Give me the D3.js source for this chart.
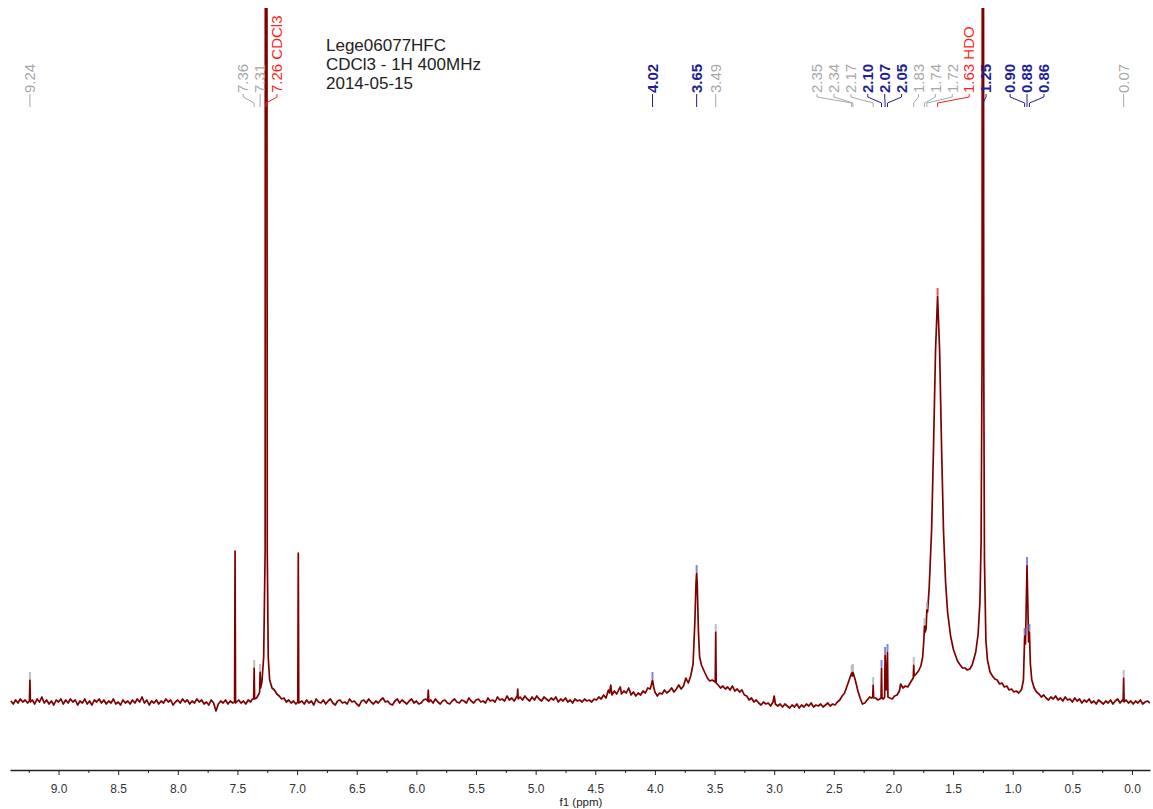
<!DOCTYPE html>
<html>
<head>
<meta charset="utf-8">
<script src="https://cdn.jsdelivr.net/npm/d3@7"></script>
<style>
  body { margin: 0; background: #fff; }
  svg { display: block; font-family: "Liberation Sans", Arial, sans-serif; }
  .axis path, .axis line { stroke: #222; }
  .axis text { fill: #333; font-size: 12px; }
</style>
</head>
<body>
<div id="chart"></div>
<script>
const width = 1153;
const height = 809;

// ppm shown at the left and right ends of the axis
const ppmRange = [9.407, -0.151];
const majorTicks = [9.0, 8.5, 8.0, 7.5, 7.0, 6.5, 6.0, 5.5, 5.0, 4.5, 4.0, 3.5, 3.0, 2.5, 2.0, 1.5, 1.0, 0.5, 0.0];
const minorTicks = [9.25, 8.75, 8.25, 7.75, 7.25, 6.75, 6.25, 5.75, 5.25, 4.75, 4.25, 3.75, 3.25, 2.75, 2.25, 1.75, 1.25, 0.75, 0.25];
const axisTitle = "f1 (ppm)";

const titleLines = ["Lege06077HFC", "CDCl3 - 1H 400MHz", "2014-05-15"];

// [ppm, intensity] (baseline = 0)
const spectrum = [
  // 9.4 - 7.5
  [9.40,1],[9.38,-2],[9.36,2],[9.34,-1],[9.32,3],[9.30,0],[9.28,2],[9.26,-1],[9.244,1],[9.24,22],
  [9.236,0],[9.22,2],[9.20,-2],[9.18,3],[9.16,0],[9.14,5],[9.12,-1],[9.10,2],[9.08,-2],[9.06,1],
  [9.04,-3],[9.02,2],[9.00,0],[8.98,3],[8.96,-2],[8.94,2],[8.92,-1],[8.90,3],[8.88,0],[8.86,2],
  [8.84,-3],[8.82,1],[8.80,-1],[8.78,3],[8.76,-2],[8.74,1],[8.72,-3],[8.70,2],[8.68,0],[8.66,3],
  [8.64,-1],[8.62,2],[8.60,-2],[8.58,1],[8.56,-1],[8.54,3],[8.52,-2],[8.50,0],[8.48,-3],[8.46,2],
  [8.44,-1],[8.42,1],[8.40,-2],[8.38,2],[8.36,-1],[8.34,3],[8.32,0],[8.30,5],[8.28,-1],[8.26,2],
  [8.24,-3],[8.22,1],[8.20,-1],[8.18,2],[8.16,-2],[8.14,1],[8.12,-1],[8.10,3],[8.08,0],[8.06,2],
  [8.04,-3],[8.02,0],[8.00,2],[7.98,-1],[7.96,3],[7.94,0],[7.92,2],[7.90,-2],[7.88,1],[7.86,-1],
  [7.84,3],[7.82,0],[7.80,2],[7.78,-2],[7.76,0],[7.74,-3],[7.72,2],[7.70,-1],[7.68,-9],[7.66,-2],
  [7.64,1],[7.62,-1],[7.60,2],[7.58,-2],[7.56,1],[7.54,-1],[7.524,0],[7.52,151],[7.516,-1],[7.49,2],
  [7.47,-1],[7.45,1],[7.43,-2],[7.41,2],[7.39,0],[7.375,3],[7.364,3],[7.36,34],[7.356,3],[7.34,4],
  // CDCl3
  [7.32,8],[7.314,10],[7.31,30],[7.306,14],[7.295,20],[7.28,45],[7.268,150],[7.264,1500],[7.257,1500],[7.25,150],
  [7.242,45],[7.23,22],[7.21,14],[7.19,12],[7.17,8],[7.15,6],[7.13,3],[7.11,4],[7.09,0],[7.07,2],
  [7.05,-1],[7.03,1],[7.01,-2],[6.994,0],[6.99,149],[6.986,-1],
  // 7.0 - 4.5
  [6.96,1],[6.94,-2],[6.92,2],[6.90,-1],[6.88,1],[6.86,-3],[6.84,3],[6.82,0],[6.80,-1],[6.78,2],
  [6.76,-2],[6.74,1],[6.72,3],[6.70,-1],[6.68,-3],[6.66,1],[6.64,2],[6.62,-1],[6.60,0],[6.58,-2],
  [6.56,3],[6.54,0],[6.52,1],[6.50,-2],[6.48,-4],[6.46,1],[6.44,2],[6.42,-1],[6.40,3],[6.38,0],
  [6.36,-2],[6.34,1],[6.32,-1],[6.30,2],[6.28,4],[6.26,0],[6.24,1],[6.22,-2],[6.20,-3],[6.18,1],
  [6.16,3],[6.14,-1],[6.12,2],[6.10,0],[6.08,-2],[6.06,1],[6.04,3],[6.02,-1],[6.00,1],[5.98,-2],
  [5.96,-1],[5.94,2],[5.92,3],[5.905,1],[5.90,12],[5.895,0],[5.88,2],[5.86,-1],[5.84,3],[5.82,0],
  [5.80,-2],[5.78,1],[5.76,2],[5.74,-1],[5.72,-2],[5.70,1],[5.68,3],[5.66,0],[5.64,-1],[5.62,2],
  [5.60,1],[5.58,-1],[5.56,4],[5.54,1],[5.52,-1],[5.50,2],[5.48,3],[5.46,0],[5.44,1],[5.42,-1],
  [5.40,4],[5.38,1],[5.36,2],[5.34,0],[5.32,5],[5.30,2],[5.28,3],[5.26,1],[5.24,6],[5.22,2],
  [5.20,4],[5.18,1],[5.16,5],[5.154,6],[5.15,13],[5.146,3],[5.13,5],[5.11,2],[5.09,6],[5.07,3],
  [5.05,1],[5.03,5],[5.01,2],[4.99,6],[4.97,3],[4.95,1],[4.93,5],[4.91,3],[4.89,1],[4.87,4],
  [4.85,2],[4.83,5],[4.81,0],[4.79,3],[4.77,1],[4.75,4],[4.73,0],[4.71,2],[4.69,-1],[4.67,3],
  [4.65,1],[4.63,2],[4.61,0],[4.59,3],[4.57,1],[4.55,2],[4.53,0],[4.51,3],
  // 4.5 - 3.1
  [4.49,2],[4.47,5],[4.45,3],[4.43,7],[4.41,4],[4.39,12],[4.38,9],[4.37,17],[4.36,7],[4.34,11],
  [4.32,8],[4.30,13],[4.29,15],[4.28,8],[4.26,11],[4.24,9],[4.22,14],[4.21,11],[4.20,7],[4.18,10],
  [4.16,6],[4.14,9],[4.12,7],[4.10,11],[4.08,9],[4.06,14],[4.04,13],[4.03,17],[4.02,22],[4.01,15],
  [4.00,10],[3.98,6],[3.96,9],[3.94,8],[3.92,12],[3.90,9],[3.88,11],[3.86,14],[3.84,10],[3.82,13],
  [3.80,17],[3.78,13],[3.76,16],[3.74,24],[3.72,19],[3.70,26],[3.68,38],[3.665,80],[3.655,120],[3.65,129],
  [3.645,118],[3.635,70],[3.625,45],[3.61,37],[3.595,33],[3.58,29],[3.56,24],[3.54,21],[3.52,22],[3.494,20],
  [3.49,70],[3.486,19],[3.47,17],[3.45,14],[3.43,16],[3.41,13],[3.39,15],[3.37,12],[3.35,16],[3.33,11],
  [3.31,13],[3.29,10],[3.27,12],[3.25,7],[3.23,6],[3.21,2],[3.19,4],[3.17,0],[3.15,2],[3.13,-1],
  // 3.1 - 2.45
  [3.11,-3],[3.09,0],[3.07,-2],[3.05,-1],[3.03,-4],[3.01,0],[3.00,6],[2.99,-2],[2.97,-4],[2.95,-2],
  [2.93,-5],[2.91,-2],[2.89,-4],[2.87,-6],[2.85,-3],[2.83,-5],[2.81,-2],[2.79,-6],[2.77,-3],[2.75,-5],
  [2.73,-2],[2.71,-4],[2.69,-1],[2.67,-5],[2.65,-3],[2.63,-4],[2.61,-2],[2.59,-5],[2.57,-3],[2.55,-1],
  [2.53,-4],[2.51,-2],[2.49,-3],[2.47,0],[2.45,2],[2.43,6],
  // 2.45 - 1.7
  [2.41,9],[2.38,19],[2.36,26],[2.35,29],[2.345,26],[2.34,30],[2.32,22],[2.30,12],[2.28,4],[2.26,-2],
  [2.24,-1],[2.22,2],[2.20,5],[2.185,4],[2.174,5],[2.17,17],[2.166,4],[2.15,4],[2.13,2],[2.115,3],
  [2.104,4],[2.10,34],[2.096,4],[2.085,3],[2.074,5],[2.07,47],[2.06,12],[2.05,50],[2.046,5],[2.03,4],
  [2.01,3],[1.99,6],[1.97,7],[1.95,11],[1.94,18],[1.92,14],[1.90,16],[1.88,15],[1.86,19],[1.845,22],
  [1.834,24],[1.83,37],[1.826,26],[1.81,28],[1.79,31],[1.77,36],[1.755,45],[1.745,62],[1.74,76],[1.733,70],
  [1.726,74],[1.72,92],[1.714,90],[1.70,115],
  // HDO and 1.25
  [1.68,172],[1.664,255],[1.647,352],[1.63,406],[1.613,352],[1.596,252],[1.58,170],[1.563,120],[1.546,90],[1.521,66],
  [1.496,52],[1.463,41],[1.44,37],[1.421,34],[1.40,34],[1.38,32],[1.36,33],[1.34,37],[1.31,50],[1.29,68],
  [1.275,100],[1.265,160],[1.257,350],[1.25,1800],[1.243,350],[1.237,142],[1.225,62],[1.212,42],[1.19,30],[1.17,26],
  [1.15,23],[1.13,22],[1.11,18],[1.09,19],[1.07,15],[1.05,16],[1.03,12],[1.01,13],[0.99,10],[0.97,11],
  [0.95,9],[0.935,11],[0.925,13],[0.91,22],[0.90,66],[0.893,58],[0.88,137],[0.867,60],[0.86,70],[0.852,38],
  [0.84,22],[0.82,14],[0.80,10],[0.78,8],[0.76,5],[0.74,7],[0.72,4],
  // 0.7 - -0.15
  [0.70,2],[0.68,5],[0.66,3],[0.64,6],[0.62,2],[0.60,4],[0.58,1],[0.56,5],[0.54,2],[0.52,3],
  [0.50,0],[0.48,4],[0.46,1],[0.44,3],[0.42,-1],[0.40,2],[0.38,0],[0.36,3],[0.34,-1],[0.32,1],
  [0.30,-2],[0.28,2],[0.26,0],[0.24,-2],[0.22,1],[0.20,-1],[0.18,2],[0.16,-2],[0.14,1],[0.12,3],
  [0.10,-1],[0.08,2],[0.074,1],[0.07,24],[0.066,0],[0.05,2],[0.03,-1],[0.01,1],[-0.01,-2],[-0.03,1],
  [-0.05,-1],[-0.07,2],[-0.09,-2],[-0.11,0],[-0.13,1],[-0.151,-1]
];

// picked peaks: kind = auto (grey), picked (blue), solvent (red)
const peakLabels = [
  {ppm: 9.24, text: "9.24", kind: "auto"},
  {ppm: 7.36, text: "7.36", kind: "auto"},
  {ppm: 7.31, text: "7.31", kind: "auto"},
  {ppm: 7.26, text: "7.26 CDCl3", kind: "solvent"},
  {ppm: 4.02, text: "4.02", kind: "picked"},
  {ppm: 3.65, text: "3.65", kind: "picked"},
  {ppm: 3.49, text: "3.49", kind: "auto"},
  {ppm: 2.35, text: "2.35", kind: "auto"},
  {ppm: 2.34, text: "2.34", kind: "auto"},
  {ppm: 2.17, text: "2.17", kind: "auto"},
  {ppm: 2.10, text: "2.10", kind: "picked"},
  {ppm: 2.07, text: "2.07", kind: "picked"},
  {ppm: 2.05, text: "2.05", kind: "picked"},
  {ppm: 1.83, text: "1.83", kind: "auto"},
  {ppm: 1.74, text: "1.74", kind: "auto"},
  {ppm: 1.72, text: "1.72", kind: "auto"},
  {ppm: 1.63, text: "1.63 HDO", kind: "solvent"},
  {ppm: 1.25, text: "1.25", kind: "picked"},
  {ppm: 0.90, text: "0.90", kind: "picked"},
  {ppm: 0.88, text: "0.88", kind: "picked"},
  {ppm: 0.86, text: "0.86", kind: "picked"},
  {ppm: 0.07, text: "0.07", kind: "auto"}
];

const labelColour = {auto: "#a8a8a8", picked: "#1f1f96", solvent: "#ff1f1f"};
const labelWeight = {auto: "normal", picked: "bold", solvent: "normal"};
const markColour = {auto: "#b4b4b4", picked: "#7070d8", solvent: "#ff3030"};

const plot = {left: 10, right: 1150, top: 8, axisY: 770};

const svg = d3.select("#chart").append("svg")
    .attr("width", width)
    .attr("height", height)
    .attr("viewBox", [0, 0, width, height]);

const x = d3.scaleLinear()
    .domain(ppmRange)
    .range([plot.left, plot.right]);

// 1 intensity unit per pixel, baseline sits at y = 702
const y = d3.scaleLinear()
    .domain([-68, 694])
    .range([plot.axisY, plot.top]);

svg.append("clipPath")
    .attr("id", "plotClip")
  .append("rect")
    .attr("x", plot.left)
    .attr("y", plot.top)
    .attr("width", plot.right - plot.left)
    .attr("height", plot.axisY - plot.top);

// title block
svg.append("g")
    .selectAll("text")
    .data(titleLines)
    .join("text")
    .attr("x", 326)
    .attr("y", (d, i) => 51 + i * 19)
    .attr("font-size", 17)
    .attr("fill", "#222")
    .text(d => d);

// spectrum trace
const line = d3.line()
    .x(d => x(d[0]))
    .y(d => y(d[1]));

const trace = spectrum.slice().sort((a, b) => b[0] - a[0]);

svg.append("path")
    .datum(trace)
    .attr("clip-path", "url(#plotClip)")
    .attr("fill", "none")
    .attr("stroke", "#800000")
    .attr("stroke-width", 1.7)
    .attr("stroke-linejoin", "round")
    .attr("d", line);

// peak markers on top of each picked peak
const peakTop = ppm => d3.max(trace.filter(d => Math.abs(d[0] - ppm) < 0.0045), d => d[1]);

svg.append("g")
    .attr("clip-path", "url(#plotClip)")
    .selectAll("rect")
    .data(peakLabels)
    .join("rect")
    .attr("x", d => x(d.ppm) - 1)
    .attr("y", d => y(peakTop(d.ppm)) - 8)
    .attr("width", 2)
    .attr("height", 7)
    .attr("fill", d => markColour[d.kind])
    .attr("opacity", 0.85);

// spread labels so that neighbours keep a minimum gap
const minGap = 16.9;
const items = peakLabels.map(d => Object.assign({}, d, {px: x(d.ppm)}))
    .sort((a, b) => a.px - b.px);
let groups = items.map(d => ({members: [d], center: d.px}));
let merged = true;
while (merged) {
  merged = false;
  for (let i = 0; i < groups.length - 1; i++) {
    const a = groups[i], b = groups[i + 1];
    const aEnd = a.center + (a.members.length - 1) * minGap / 2;
    const bStart = b.center - (b.members.length - 1) * minGap / 2;
    if (bStart - aEnd < minGap) {
      const members = a.members.concat(b.members);
      groups.splice(i, 2, {members: members, center: d3.mean(members, m => m.px)});
      merged = true;
      break;
    }
  }
}
groups.forEach(g => g.members.forEach((m, i) => {
  m.lx = g.center + (i - (g.members.length - 1) / 2) * minGap;
}));

const labels = svg.append("g");

labels.selectAll("path")
    .data(items)
    .join("path")
    .attr("fill", "none")
    .attr("stroke", d => labelColour[d.kind])
    .attr("stroke-width", 1)
    .attr("d", d => `M${d.lx},94 L${d.lx},97 L${d.px},103 L${d.px},107`);

labels.selectAll("text")
    .data(items)
    .join("text")
    .attr("transform", d => `translate(${d.lx},93) rotate(-90)`)
    .attr("dy", "0.35em")
    .attr("font-size", 15)
    .attr("font-weight", d => labelWeight[d.kind])
    .attr("fill", d => labelColour[d.kind])
    .text(d => d.text);

// axis
const xAxis = d3.axisBottom(x)
    .tickValues(majorTicks)
    .tickSize(5)
    .tickSizeOuter(0)
    .tickPadding(9)
    .tickFormat(d3.format(".1f"));

const gx = svg.append("g")
    .attr("class", "axis")
    .attr("transform", `translate(0,${plot.axisY})`)
    .call(xAxis);
gx.select(".domain").attr("stroke-width", 1.3);

svg.append("g")
    .attr("class", "axis")
    .attr("transform", `translate(0,${plot.axisY})`)
    .call(d3.axisBottom(x).tickValues(minorTicks).tickSize(3).tickFormat(""))
    .select(".domain").remove();

svg.append("text")
    .attr("x", 581)
    .attr("y", 806)
    .attr("text-anchor", "middle")
    .attr("font-size", 11.5)
    .attr("fill", "#222")
    .text(axisTitle);
</script>
</body>
</html>
